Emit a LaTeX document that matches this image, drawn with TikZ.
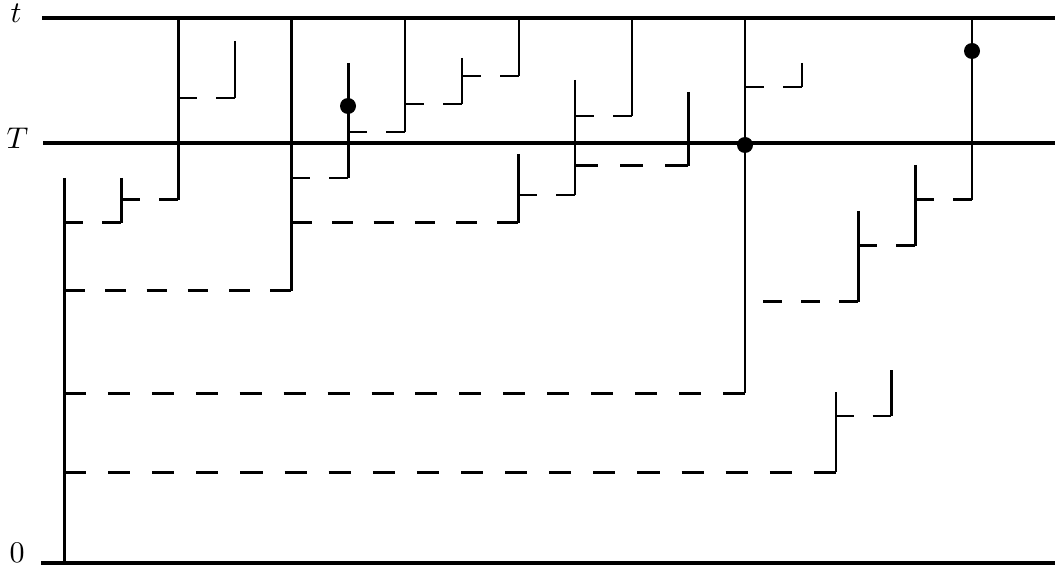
\documentclass[tikz,border=0pt]{standalone}
\newcommand\dashln[5]{\pgfmathsetmacro\pc{(#2-#1)/#4}\draw[#5,dash pattern=on \pc pt off \pc pt] (#1,#3) -- (#2,#3);}
\newcommand\biglab[1]{\scalebox{3.0}{$#1$}}
\begin{document}
\begin{tikzpicture}[x=1pt,y=-1pt,
  thk/.style={line width=3pt},
  thn/.style={line width=2.2pt},
  axisln/.style={line width=3.2pt},
  dotn/.style={circle,fill=black,inner sep=0pt,minimum size=16pt},
  lab/.style={inner sep=0pt}]
\useasboundingbox (0,0) rectangle (1055,569);
% axes
\coordinate (tL) at (42,18); \coordinate (tR) at (1055,18);
\coordinate (TL) at (43,143); \coordinate (TR) at (1055,143);
\coordinate (zL) at (41,563); \coordinate (zR) at (1055,563);
\draw[axisln] (tL) -- (tR);
\draw[axisln] (TL) -- (TR);
\draw[axisln] (zL) -- (zR);
\node[lab] (lt) at (16,13.5) {\biglab{t}};
\node[lab] (lT) at (17.5,138) {\biglab{T}};
\node[lab] (l0) at (17,553) {\biglab{0}};
% verticals
\draw[thk] (64,178) -- (64,563);
\draw[thk] (121,178) -- (121,223);
\draw[thk] (178,18) -- (178,200);
\draw[thn] (235,41) -- (235,98);
\draw[thk] (291,18) -- (291,291);
\draw[thk] (348,63) -- (348,178);
\draw[thn] (405,18) -- (405,132);
\draw[thn] (462,58) -- (462,104);
\draw[thn] (519,18) -- (519,76);
\draw[thk] (518,154) -- (518,223);
\draw[thn] (575,80) -- (575,195);
\draw[thn] (632,18) -- (632,116);
\draw[thk] (688,92) -- (688,166);
\draw[thn] (745,18) -- (745,393);
\draw[thn] (802,63) -- (802,87);
\draw[thn] (836,392) -- (836,472);
\draw[thk] (891,370) -- (891,416);
\draw[thk] (858,211) -- (858,302);
\draw[thk] (915,165) -- (915,246);
\draw[thn] (972,18) -- (972,200);
% dashed
\dashln{64}{121}{223}{3}{thk}
\dashln{121}{178}{200}{3}{thk}
\dashln{178}{235}{98}{3}{thn}
\dashln{64}{291}{291}{11}{thk}
\dashln{291}{348}{178}{3}{thn}
\dashln{348}{405}{132}{3}{thn}
\dashln{405}{462}{104}{3}{thn}
\dashln{462}{519}{76}{3}{thn}
\dashln{291}{518}{223}{11}{thk}
\dashln{518}{575}{195}{3}{thn}
\dashln{575}{632}{116}{3}{thn}
\dashln{575}{688}{166}{5}{thk}
\dashln{745}{802}{87}{3}{thn}
\dashln{64}{745}{393}{31}{thk}
\dashln{64}{836}{472}{35}{thk}
\dashln{836}{891}{416}{3}{thn}
\dashln{763}{858}{302}{5}{thk}
\dashln{858}{915}{246}{3}{thk}
\dashln{915}{972}{200}{3}{thk}
% dots
\node[dotn] (d1) at (348,106) {};
\node[dotn] (d2) at (745,145) {};
\node[dotn] (d3) at (972,51) {};
\end{tikzpicture}
\end{document}
